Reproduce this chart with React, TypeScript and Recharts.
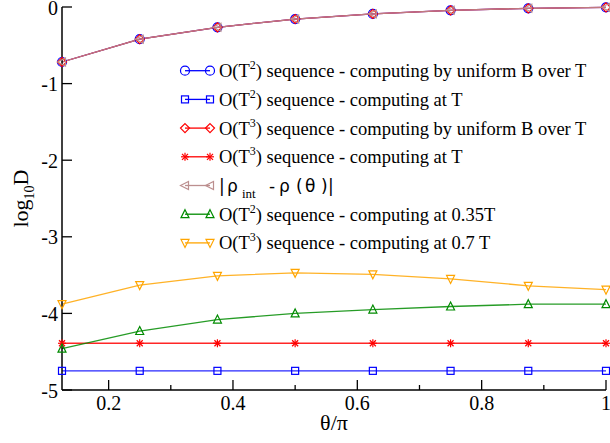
import React from "react";
import { LineChart, Line, XAxis, YAxis, Legend } from "recharts";

const thetas = [0.125, 0.25, 0.375, 0.5, 0.625, 0.75, 0.875, 1];
const uniformT2 = [-0.718, -0.42, -0.265, -0.157, -0.09, -0.043, -0.017, -0.004];
const atT_T2 = [-4.75, -4.75, -4.75, -4.75, -4.75, -4.75, -4.75, -4.75];
const uniformT3 = [-0.718, -0.42, -0.265, -0.157, -0.09, -0.043, -0.017, -0.004];
const atT_T3 = [-4.39, -4.39, -4.39, -4.39, -4.39, -4.39, -4.39, -4.39];
const rhoDiff = [-0.718, -0.42, -0.265, -0.157, -0.09, -0.043, -0.017, -0.004];
const at035T_T2 = [-4.46, -4.23, -4.08, -4.0, -3.95, -3.91, -3.88, -3.88];
const at07T_T3 = [-3.88, -3.63, -3.51, -3.47, -3.49, -3.55, -3.64, -3.69];

const xMajorTicks = [0.2, 0.4, 0.6, 0.8, 1];
const xMinorTicks = [0.3, 0.5, 0.7, 0.9];
const yTicks = [-5, -4, -3, -2, -1, 0];

const data = thetas.map((t, i) => ({
  t,
  a: uniformT2[i],
  b: atT_T2[i],
  c: uniformT3[i],
  d: atT_T3[i],
  e: rhoDiff[i],
  f: at035T_T2[i],
  g: at07T_T3[i],
}));

type Shape = "circle" | "square" | "diamond" | "star" | "triLeft" | "triUp" | "triDown";

const series: { key: string; color: string; shape: Shape; pow?: string; text: string }[] = [
  { key: "a", color: "#0000ff", shape: "circle", pow: "2", text: ") sequence - computing by uniform B over T" },
  { key: "b", color: "#0000ff", shape: "square", pow: "2", text: ") sequence - computing at T" },
  { key: "c", color: "#ff0000", shape: "diamond", pow: "3", text: ") sequence - computing by uniform B over T" },
  { key: "d", color: "#ff0000", shape: "star", pow: "3", text: ") sequence - computing at T" },
  { key: "e", color: "#bc8f8f", shape: "triLeft", text: "" },
  { key: "f", color: "#008b00", shape: "triUp", pow: "2", text: ") sequence - computing at 0.35T" },
  { key: "g", color: "#ffa500", shape: "triDown", pow: "3", text: ") sequence - computing at 0.7 T" },
];

const FONT = "'Liberation Serif', 'Times New Roman', serif";
const SANS = "'DejaVu Sans', sans-serif";

const Marker = ({ cx, cy, shape, color }: { cx: number; cy: number; shape: Shape; color: string }) => {
  const s = 1.2;
  switch (shape) {
    case "circle":
      return <circle cx={cx} cy={cy} r={4.5} fill="none" stroke={color} strokeWidth={s} />;
    case "square":
      return <rect x={cx - 3.5} y={cy - 3.5} width={7} height={7} fill="none" stroke={color} strokeWidth={s} />;
    case "diamond":
      return (
        <polygon
          points={`${cx},${cy - 4.5} ${cx + 4.5},${cy} ${cx},${cy + 4.5} ${cx - 4.5},${cy}`}
          fill="none"
          stroke={color}
          strokeWidth={s}
        />
      );
    case "star":
      return (
        <g stroke={color} strokeWidth={s}>
          <line x1={cx - 4} y1={cy} x2={cx + 4} y2={cy} />
          <line x1={cx} y1={cy - 4} x2={cx} y2={cy + 4} />
          <line x1={cx - 3} y1={cy - 3} x2={cx + 3} y2={cy + 3} />
          <line x1={cx - 3} y1={cy + 3} x2={cx + 3} y2={cy - 3} />
        </g>
      );
    case "triLeft":
      return (
        <polygon
          points={`${cx - 4.5},${cy} ${cx + 3.5},${cy - 4} ${cx + 3.5},${cy + 4}`}
          fill="none"
          stroke={color}
          strokeWidth={s}
        />
      );
    case "triUp":
      return (
        <polygon
          points={`${cx},${cy - 4.5} ${cx + 4},${cy + 3.5} ${cx - 4},${cy + 3.5}`}
          fill="none"
          stroke={color}
          strokeWidth={s}
        />
      );
    default:
      return (
        <polygon
          points={`${cx},${cy + 4.5} ${cx + 4},${cy - 3.5} ${cx - 4},${cy - 3.5}`}
          fill="none"
          stroke={color}
          strokeWidth={s}
        />
      );
  }
};

const BottomTick = (props: any) => {
  const { x, y, payload } = props;
  const major = xMajorTicks.includes(payload.value);
  return (
    <g>
      <line x1={x} y1={y} x2={x} y2={y - (major ? 10 : 5)} stroke="#000" strokeWidth={1.3} />
      {major && (
        <text x={x} y={y + 20} textAnchor="middle" fontFamily={FONT} fontSize={20} fill="#000">
          {payload.value}
        </text>
      )}
    </g>
  );
};

const TopTick = (props: any) => {
  const { x, y, payload } = props;
  const major = xMajorTicks.includes(payload.value);
  return <line x1={x} y1={y} x2={x} y2={y + (major ? 10 : 5)} stroke="#000" strokeWidth={1.3} />;
};

const LeftTick = (props: any) => {
  const { x, y, payload } = props;
  return (
    <g>
      <line x1={x} y1={y} x2={x + 10} y2={y} stroke="#000" strokeWidth={1.3} />
      <text x={x - 4} y={y + 7.5} textAnchor="end" fontFamily={FONT} fontSize={20} fill="#000">
        {payload.value}
      </text>
    </g>
  );
};

const RightTick = (props: any) => {
  const { x, y } = props;
  return <line x1={x} y1={y} x2={x - 10} y2={y} stroke="#000" strokeWidth={1.3} />;
};

const LegendBox = () => (
  <svg width={440} height={210} style={{ display: "block" }}>
    {series.map((s, i) => {
      const my = 15.7 + 28.7 * i;
      const ty = my + 6.5;
      return (
        <g key={s.key}>
          <line x1={10} y1={my} x2={35} y2={my} stroke={s.color} strokeWidth={1.3} />
          <Marker cx={10} cy={my} shape={s.shape} color={s.color} />
          <Marker cx={35} cy={my} shape={s.shape} color={s.color} />
          {s.pow ? (
            <text x={44} y={ty} fontFamily={FONT} fontSize={18.5} fill="#000">
              O(T
              <tspan dy={-8} fontSize={12}>
                {s.pow}
              </tspan>
              <tspan dy={8}>{s.text}</tspan>
            </text>
          ) : (
            <text y={ty} fontFamily={SANS} fontSize={17} fill="#000">
              <tspan x={44}>|</tspan>
              <tspan x={52}>ρ</tspan>
              <tspan x={67} dy={6} fontSize={13} fontFamily={FONT}>
                int
              </tspan>
              <tspan x={94} dy={-6}>
                -
              </tspan>
              <tspan x={104}>ρ</tspan>
              <tspan x={121}>(</tspan>
              <tspan x={130}>θ</tspan>
              <tspan x={146}>)</tspan>
              <tspan x={153}>|</tspan>
            </text>
          )}
        </g>
      );
    })}
  </svg>
);

const YLabel = (props: any) => {
  const { viewBox } = props;
  const cy = viewBox.y + viewBox.height / 2;
  return (
    <text
      x={28}
      y={cy}
      transform={`rotate(-90 28 ${cy})`}
      textAnchor="middle"
      fontFamily={FONT}
      fontSize={22}
      fill="#000"
    >
      log
      <tspan dy={6} fontSize={14}>
        10
      </tspan>
      <tspan dy={-6}>D</tspan>
    </text>
  );
};

const XLabel = (props: any) => {
  const { viewBox } = props;
  return (
    <text
      x={viewBox.x + viewBox.width / 2}
      y={430}
      textAnchor="middle"
      fontFamily={FONT}
      fontSize={22}
      fill="#000"
    >
      θ/π
    </text>
  );
};

export default function App() {
  return (
    <div style={{ position: "absolute", left: 0, top: 0, background: "#fff" }}>
      <LineChart width={610} height={443} data={data} margin={{ top: 7, right: 4, left: 0, bottom: 0 }}>
        <XAxis
          xAxisId="bottom"
          dataKey="t"
          type="number"
          domain={[0.125, 1]}
          ticks={[...xMajorTicks, ...xMinorTicks]}
          height={53}
          tickSize={0}
          tickMargin={0}
          tickLine={false}
          tick={<BottomTick />}
          axisLine={{ stroke: "#000", strokeWidth: 1.5 }}
          interval={0}
          label={<XLabel />}
        />
        <XAxis
          xAxisId="top"
          orientation="top"
          dataKey="t"
          type="number"
          domain={[0.125, 1]}
          ticks={[...xMajorTicks, ...xMinorTicks]}
          height={0}
          tickSize={0}
          tickMargin={0}
          tickLine={false}
          tick={<TopTick />}
          axisLine={{ stroke: "#000", strokeWidth: 1.5 }}
          interval={0}
        />
        <YAxis
          yAxisId="left"
          type="number"
          domain={[-5, 0]}
          ticks={yTicks}
          width={62}
          tickSize={0}
          tickMargin={0}
          tickLine={false}
          tick={<LeftTick />}
          axisLine={{ stroke: "#000", strokeWidth: 1.5 }}
          interval={0}
          label={<YLabel />}
        />
        <YAxis
          yAxisId="right"
          orientation="right"
          type="number"
          domain={[-5, 0]}
          ticks={yTicks}
          width={0}
          tickSize={0}
          tickMargin={0}
          tickLine={false}
          tick={<RightTick />}
          axisLine={{ stroke: "#000", strokeWidth: 1.5 }}
          interval={0}
        />
        {series.map((s) => (
          <Line
            key={s.key}
            xAxisId="bottom"
            yAxisId="left"
            dataKey={s.key}
            stroke={s.color}
            strokeWidth={1.3}
            strokeOpacity={0.85}
            type="linear"
            isAnimationActive={false}
            dot={(p: any) => <Marker key={`${s.key}-${p.index}`} cx={p.cx} cy={p.cy} shape={s.shape} color={s.color} />}
            activeDot={false}
          />
        ))}
        <Legend
          layout="vertical"
          align="center"
          verticalAlign="middle"
          content={() => <LegendBox />}
          wrapperStyle={{ position: "absolute", left: 175, top: 55, width: 440, height: 210 }}
        />
      </LineChart>
    </div>
  );
}
